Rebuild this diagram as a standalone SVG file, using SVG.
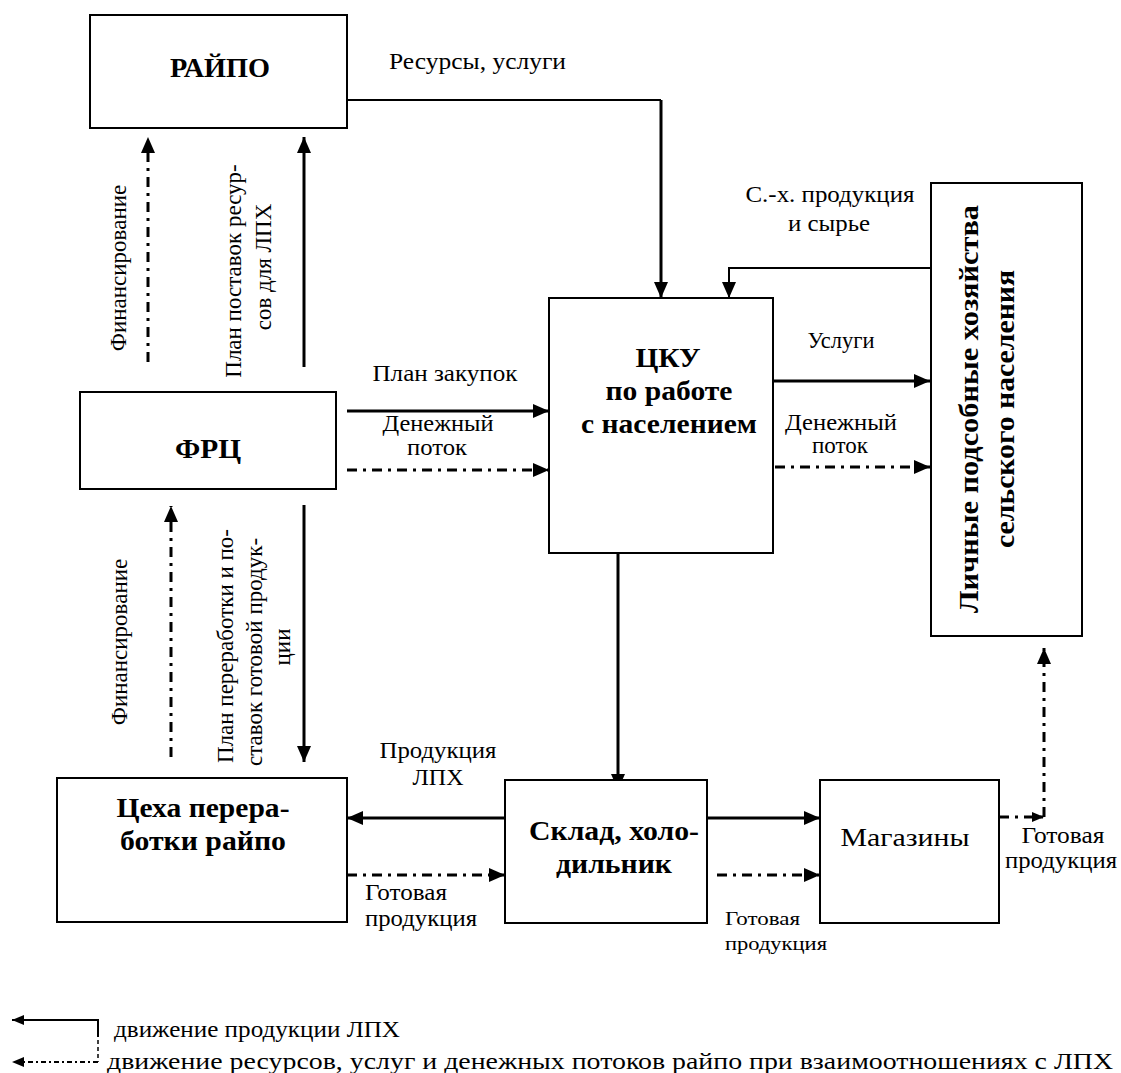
<svg xmlns="http://www.w3.org/2000/svg" width="1121" height="1073" viewBox="0 0 1121 1073" font-family="Times New Roman, Liberation Serif, DejaVu Serif, serif">
  <defs>
    <marker id="arrow" markerUnits="userSpaceOnUse" markerWidth="17" markerHeight="15" refX="16" refY="7" orient="auto">
      <path d="M0,0 L16,7 L0,14 z" fill="#000000"/>
    </marker>
    <marker id="arrowSmall" markerUnits="userSpaceOnUse" markerWidth="13" markerHeight="11" refX="12" refY="5" orient="auto">
      <path d="M0,0 L12,5 L0,10 z" fill="#000000"/>
    </marker>
  </defs>

  <rect width="1121" height="1073" fill="#ffffff"/>

  <!-- connectors: solid = product flow, dash-dot = resources, services and money -->
  <g id="connectors" fill="none" stroke="#000000">
    <g stroke-width="2">
      <path d="M347,100 H661"/>
      <path d="M930,268 H729 V298" marker-end="url(#arrow)"/>
    </g>
    <g stroke-width="3">
      <path d="M661,100 V298" marker-end="url(#arrow)"/>
      <path d="M347,411 H549" marker-end="url(#arrow)"/>
      <path d="M773,381 H930" marker-end="url(#arrow)"/>
      <path d="M304,367 V137" marker-end="url(#arrow)"/>
      <path d="M304,505 V762" marker-end="url(#arrow)"/>
      <path d="M618,553 V790" marker-end="url(#arrow)"/>
      <path d="M505,818 H347" marker-end="url(#arrow)"/>
      <path d="M707,818 H820" marker-end="url(#arrow)"/>
    </g>
    <g stroke-width="3" stroke-dasharray="10 6 3 6">
      <path d="M347,470 H549" marker-end="url(#arrow)"/>
      <path d="M775,467 H930" marker-end="url(#arrow)"/>
      <path d="M148,362 V137" marker-end="url(#arrow)"/>
      <path d="M171,757 V506" marker-end="url(#arrow)"/>
      <path d="M347,875 H505" marker-end="url(#arrow)"/>
      <path d="M717,875 H820" marker-end="url(#arrow)"/>
      <path d="M999,817 H1044" marker-end="url(#arrowSmall)"/>
      <path d="M1044,817 V648" marker-end="url(#arrow)"/>
    </g>
  </g>

  <!-- nodes -->
  <g id="raipo">
    <rect x="90" y="15" width="257" height="113" fill="#ffffff" stroke="#000000" stroke-width="2"/>
    <text x="220" y="77" text-anchor="middle" font-size="27" font-weight="bold" textLength="100" lengthAdjust="spacingAndGlyphs">РАЙПО</text>
  </g>
  <g id="frc">
    <rect x="80" y="392" width="256" height="97" fill="#ffffff" stroke="#000000" stroke-width="2"/>
    <text x="208" y="458" text-anchor="middle" font-size="27" font-weight="bold" textLength="66" lengthAdjust="spacingAndGlyphs">ФРЦ</text>
  </g>
  <g id="cku">
    <rect x="549" y="298" width="224" height="255" fill="#ffffff" stroke="#000000" stroke-width="2"/>
    <text x="668" y="367" text-anchor="middle" font-size="27" font-weight="bold" textLength="65" lengthAdjust="spacingAndGlyphs">ЦКУ</text>
    <text x="669" y="400" text-anchor="middle" font-size="27" font-weight="bold" textLength="127" lengthAdjust="spacingAndGlyphs">по работе</text>
    <text x="669" y="433" text-anchor="middle" font-size="27" font-weight="bold" textLength="176" lengthAdjust="spacingAndGlyphs">с населением</text>
  </g>
  <g id="households">
    <rect x="931" y="183" width="151" height="453" fill="#ffffff" stroke="#000000" stroke-width="2"/>
    <text transform="translate(978,409) rotate(-90)" text-anchor="middle" font-size="27" font-weight="bold" textLength="408" lengthAdjust="spacingAndGlyphs">Личные подсобные хозяйства</text>
    <text transform="translate(1014,409) rotate(-90)" text-anchor="middle" font-size="27" font-weight="bold" textLength="278" lengthAdjust="spacingAndGlyphs">сельского населения</text>
  </g>
  <g id="processing-shops">
    <rect x="57" y="778" width="290" height="144" fill="#ffffff" stroke="#000000" stroke-width="2"/>
    <text x="203" y="817" text-anchor="middle" font-size="27" font-weight="bold" textLength="173" lengthAdjust="spacingAndGlyphs">Цеха перера-</text>
    <text x="203" y="850" text-anchor="middle" font-size="27" font-weight="bold" textLength="166" lengthAdjust="spacingAndGlyphs">ботки райпо</text>
  </g>
  <g id="warehouse">
    <rect x="505" y="780" width="202" height="143" fill="#ffffff" stroke="#000000" stroke-width="2"/>
    <text x="614" y="840" text-anchor="middle" font-size="27" font-weight="bold" textLength="170" lengthAdjust="spacingAndGlyphs">Склад, холо-</text>
    <text x="614" y="873" text-anchor="middle" font-size="27" font-weight="bold" textLength="116" lengthAdjust="spacingAndGlyphs">дильник</text>
  </g>
  <g id="stores">
    <rect x="820" y="780" width="179" height="143" fill="#ffffff" stroke="#000000" stroke-width="2"/>
    <text x="905" y="846" text-anchor="middle" font-size="25" textLength="129" lengthAdjust="spacingAndGlyphs">Магазины</text>
  </g>

  <!-- connector labels -->
  <g id="labels" fill="#000000" font-size="23">
    <text x="389" y="69" textLength="177" lengthAdjust="spacingAndGlyphs">Ресурсы, услуги</text>
    <text x="830" y="202" text-anchor="middle" textLength="169" lengthAdjust="spacingAndGlyphs">С.-х. продукция</text>
    <text x="829" y="231" text-anchor="middle" textLength="82" lengthAdjust="spacingAndGlyphs">и сырье</text>
    <text x="445" y="381" text-anchor="middle" textLength="145" lengthAdjust="spacingAndGlyphs">План закупок</text>
    <text x="438" y="431" text-anchor="middle" textLength="111" lengthAdjust="spacingAndGlyphs">Денежный</text>
    <text x="437" y="455" text-anchor="middle" textLength="60" lengthAdjust="spacingAndGlyphs">поток</text>
    <text x="841" y="348" text-anchor="middle" textLength="67" lengthAdjust="spacingAndGlyphs">Услуги</text>
    <text x="841" y="430" text-anchor="middle" textLength="112" lengthAdjust="spacingAndGlyphs">Денежный</text>
    <text x="840" y="453" text-anchor="middle" textLength="56" lengthAdjust="spacingAndGlyphs">поток</text>
    <text transform="translate(126,268) rotate(-90)" text-anchor="middle">Финансирование</text>
    <text transform="translate(241,271) rotate(-90)" text-anchor="middle">План поставок ресур-</text>
    <text transform="translate(271,267) rotate(-90)" text-anchor="middle">сов для ЛПХ</text>
    <text transform="translate(127,642) rotate(-90)" text-anchor="middle">Финансирование</text>
    <text transform="translate(233,646) rotate(-90)" text-anchor="middle">План переработки и по-</text>
    <text transform="translate(262,652) rotate(-90)" text-anchor="middle">ставок готовой продук-</text>
    <text transform="translate(290,647) rotate(-90)" text-anchor="middle">ции</text>
    <text x="438" y="758" text-anchor="middle" textLength="117" lengthAdjust="spacingAndGlyphs">Продукция</text>
    <text x="438" y="785" text-anchor="middle" textLength="51" lengthAdjust="spacingAndGlyphs">ЛПХ</text>
    <text x="365" y="900" textLength="82" lengthAdjust="spacingAndGlyphs">Готовая</text>
    <text x="365" y="926" textLength="112" lengthAdjust="spacingAndGlyphs">продукция</text>
    <text x="725" y="925" font-size="19" textLength="75" lengthAdjust="spacingAndGlyphs">Готовая</text>
    <text x="725" y="950" font-size="19" textLength="102" lengthAdjust="spacingAndGlyphs">продукция</text>
    <text x="1063" y="843" text-anchor="middle" textLength="83" lengthAdjust="spacingAndGlyphs">Готовая</text>
    <text x="1061" y="868" text-anchor="middle" textLength="112" lengthAdjust="spacingAndGlyphs">продукция</text>
  </g>

  <!-- legend -->
  <g id="legend">
    <path d="M98,1037 V1020 H12" fill="none" stroke="#000000" stroke-width="2" marker-end="url(#arrowSmall)"/>
    <path d="M98,1040 V1062" fill="none" stroke="#000000" stroke-width="1.5" stroke-dasharray="4 3"/>
    <path d="M98,1062 H12" fill="none" stroke="#000000" stroke-width="2" stroke-dasharray="5 3 2 3" marker-end="url(#arrowSmall)"/>
    <text x="114" y="1037" font-size="24" textLength="286" lengthAdjust="spacingAndGlyphs">движение продукции ЛПХ</text>
    <text x="107" y="1069" font-size="24" textLength="1006" lengthAdjust="spacingAndGlyphs">движение ресурсов, услуг и денежных потоков райпо при взаимоотношениях с ЛПХ</text>
  </g>
</svg>
